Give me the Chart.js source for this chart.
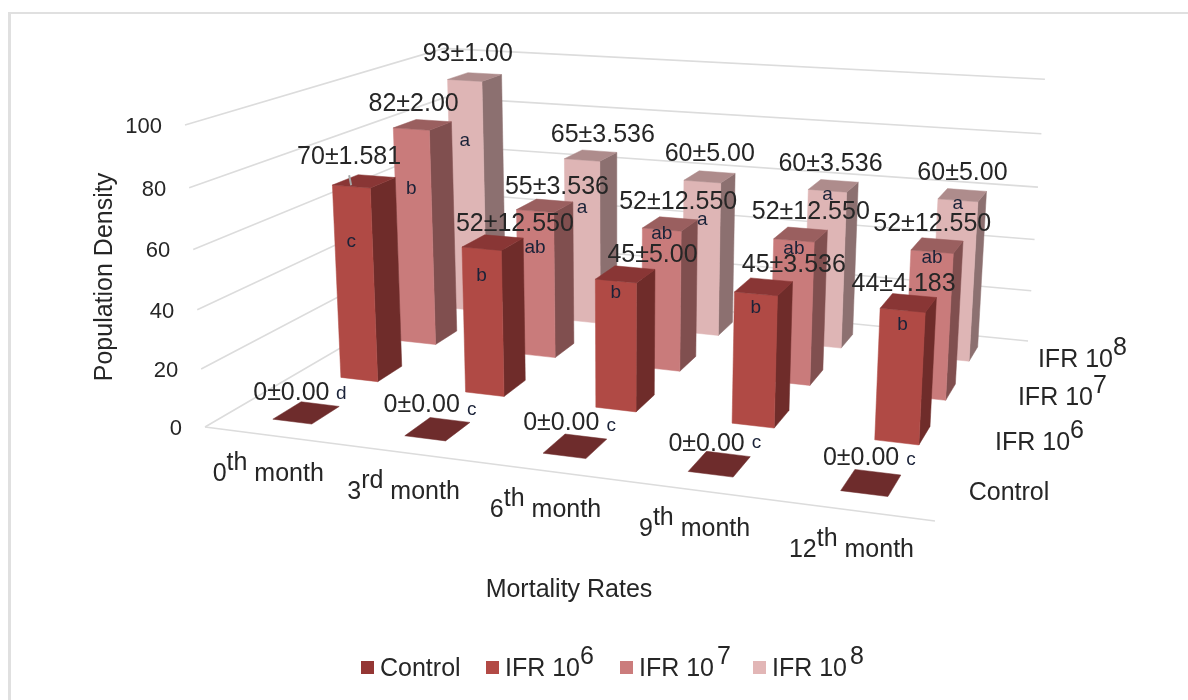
<!DOCTYPE html>
<html>
<head>
<meta charset="utf-8">
<script src="https://cdn.jsdelivr.net/npm/chart.js@4/dist/chart.umd.min.js"></script>
<style>
  html, body { margin: 0; background: #fff; }
  canvas { display: block; }
</style>
</head>
<body>
<canvas id="c" width="1188" height="700"></canvas>
<script>
// Months along the front of the floor; the superscript is kept apart from the number.
const monthNumbers = ['0', '3', '6', '9', '12'];
const monthSuffixes = ['th', 'rd', 'th', 'th', 'th'];
const months = ['0th month', '3rd month', '6th month', '9th month', '12th month'];

// Treatments, front row first.
const seriesNames = ['Control', 'IFR 10⁶', 'IFR 10⁷', 'IFR 10⁸'];
const seriesExponents = ['', '6', '7', '8'];

const controlValues = [0, 0, 0, 0, 0];
const ifr6Values = [70, 52, 45, 45, 44];
const ifr7Values = [82, 55, 52, 52, 52];
const ifr8Values = [93, 65, 60, 60, 60];

const controlErrors = ['0.00', '0.00', '0.00', '0.00', '0.00'];
const ifr6Errors = ['1.581', '12.550', '5.00', '3.536', '4.183'];
const ifr7Errors = ['2.00', '3.536', '12.550', '12.550', '12.550'];
const ifr8Errors = ['1.00', '3.536', '5.00', '3.536', '5.00'];

const controlLetters = ['d', 'c', 'c', 'c', 'c'];
const ifr6Letters = ['c', 'b', 'b', 'b', 'b'];
const ifr7Letters = ['b', 'ab', 'ab', 'ab', 'ab'];
const ifr8Letters = ['a', 'a', 'a', 'a', 'a'];

const seriesValues = [controlValues, ifr6Values, ifr7Values, ifr8Values];
const seriesErrors = [controlErrors, ifr6Errors, ifr7Errors, ifr8Errors];
const seriesLetters = [controlLetters, ifr6Letters, ifr7Letters, ifr8Letters];

// Hand placement of the value labels, as [dx, dy] from their default spot above a bar.
const labelNudges = [
  [[-5, 4], [-6, 0], [-4, 1], [-3, 4], [0, -1]],
  [[-12, 0], [25, 6], [30, 5], [33, 2], [-2, 5]],
  [[-6, 3], [15, 5], [11, 2], [13, 2], [-2, 3]],
  [[-4, 1], [15, 4], [3, 1], [0, 2], [3, 2]]
];

// Distance of each significance letter below the top edge of its bar's front face
// (for the flat Control row, its vertical offset from the value label).
const letterDrops = [
  [1, 5, 3, -1, 2],
  [55, 27, 12, 14, 14],
  [60, 37, 4, 8, 6],
  [60, 48, 38, 4, 3]
];

const FONT = '"Liberation Sans", Arial, sans-serif';
const TEXT = '#262626';
const GRID = '#dcdcdc';

// Front, side and top shades per treatment, plus the legend swatch colour.
const faceColors = [
  { front: '#8c3636', side: '#6e2c2c', top: '#6e2c2c', key: '#943634' },
  { front: '#b04a45', side: '#6f2c2a', top: '#893635', key: '#b24a45' },
  { front: '#c97b7b', side: '#804f4f', top: '#9a5f5f', key: '#cb7c7c' },
  { front: '#deb5b5', side: '#8c7070', top: '#ae8c8c', key: '#e2b6b6' }
];

// Floor perspective: unit square (u along months, v along treatments) to canvas.
const FLOOR = { a: 621.2, b: 371.8, c: 205, d: 33.4, e: -63, f: 427, g: -0.11635, h: 0.2817 };
const VANISH = { x: 619, y: 6677 };   // vertical edges converge on this point
const HEIGHT_TAPER = -0.01;
const BAR_U = 0.060;                  // bar width, in floor units
const BAR_V = 0.10;                   // bar depth, in floor units

function project(chart, u, v, value) {
  const yScale = chart.scales.y;
  const F = FLOOR;
  const w = F.g * u + F.h * v + 1;
  const x = (F.a * u + F.b * v + F.c) / w;
  const y = (F.d * u + F.e * v + F.f) / w;
  const base = yScale.getPixelForValue(0);
  const fraction = (base - yScale.getPixelForValue(value)) / (base - yScale.top);
  // Heights foreshorten slightly towards the floor.
  const span = (base - yScale.getPixelForValue(value)) * (0.95 + 0.05 * fraction);
  const rise = span / (w * (1 + HEIGHT_TAPER * u));
  return {
    x: x + (x - VANISH.x) / (VANISH.y - y) * rise,
    y: y - rise
  };
}

function monthU(chart, index) {
  const xScale = chart.scales.x;
  return (xScale.getPixelForValue(index) - chart.chartArea.left) / chart.chartArea.width;
}

function rowV(row) {
  return (row + 0.5) / seriesNames.length;
}

function quad(ctx, pts, color) {
  ctx.beginPath();
  pts.forEach((p, i) => (i ? ctx.lineTo(p.x, p.y) : ctx.moveTo(p.x, p.y)));
  ctx.closePath();
  ctx.fillStyle = color;
  ctx.fill();
  ctx.strokeStyle = color;
  ctx.lineWidth = 0.5;
  ctx.stroke();
}

// Bars drawn as cuboids on the perspective floor; heights come from the y scale.
class Bar3DController extends Chart.BarController {
  draw() {
    const chart = this.chart;
    const ctx = chart.ctx;
    const row = this.index;
    const shade = faceColors[row];
    const meta = this.getMeta();
    const v0 = rowV(row) - BAR_V / 2;
    const v1 = rowV(row) + BAR_V / 2;
    meta.data.forEach((_, i) => {
      const value = this.getParsed(i).y;
      const uc = monthU(chart, i);
      const u0 = uc - BAR_U / 2;
      const u1 = uc + BAR_U / 2;
      const P = (u, v, val) => project(chart, u, v, val);
      if (value > 0) {
        quad(ctx, [P(u1, v0, 0), P(u1, v1, 0), P(u1, v1, value), P(u1, v0, value)], shade.side);
        quad(ctx, [P(u0, v0, 0), P(u1, v0, 0), P(u1, v0, value), P(u0, v0, value)], shade.front);
      }
      quad(ctx, [P(u0, v0, value), P(u1, v0, value), P(u1, v1, value), P(u0, v1, value)], shade.top);
    });
  }
}
Bar3DController.id = 'bar3d';
Bar3DController.defaults = Chart.BarController.defaults;
Chart.register(Bar3DController);

// Text with a raised part: pieces are [string, raised?], drawn left to right.
function raisedWidth(ctx, pieces) {
  return pieces.reduce((sum, p) => sum + ctx.measureText(p[0]).width, 0);
}
function drawRaised(ctx, pieces, x, y, lift, gap) {
  ctx.textAlign = 'left';
  ctx.textBaseline = 'alphabetic';
  pieces.forEach(p => {
    if (p[1]) x += gap || 0;
    ctx.fillText(p[0], x, p[1] ? y - lift : y);
    x += ctx.measureText(p[0]).width;
  });
  return x;
}

const wallsPlugin = {
  id: 'walls',
  beforeDatasetsDraw(chart) {
    const { ctx, scales: { y: yScale } } = chart;
    ctx.save();
    ctx.strokeStyle = GRID;
    ctx.lineWidth = 1.6;
    yScale.ticks.forEach(t => {
      const a = project(chart, 0, 0, t.value);
      const b = project(chart, 0, 1, t.value);
      const c = project(chart, 1, 1, t.value);
      ctx.beginPath();
      ctx.moveTo(a.x, a.y);
      ctx.lineTo(b.x, b.y);
      ctx.lineTo(c.x, c.y);
      ctx.stroke();
    });
    const fl = project(chart, 0, 0, 0);
    const fr = project(chart, 1, 0, 0);
    ctx.beginPath();
    ctx.moveTo(fl.x, fl.y);
    ctx.lineTo(fr.x, fr.y);
    ctx.stroke();
    ctx.restore();
  }
};

const textPlugin = {
  id: 'chartText',
  afterDatasetsDraw(chart) {
    const { ctx, scales: { y: yScale } } = chart;
    ctx.save();
    ctx.fillStyle = TEXT;

    // Value axis numbers follow the slanted front edge of the wall.
    ctx.font = '22px ' + FONT;
    ctx.textAlign = 'right';
    ctx.textBaseline = 'middle';
    yScale.ticks.forEach(t => {
      const p = project(chart, 0, 0, t.value);
      ctx.fillText(String(t.value), p.x - 23, p.y + 2);
    });

    // Month labels under the front edge.
    ctx.font = '25px ' + FONT;
    months.forEach((_, i) => {
      const p = project(chart, monthU(chart, i), 0, 0);
      const pieces = [[monthNumbers[i], false], [monthSuffixes[i], true], [' month', false]];
      const wide = raisedWidth(ctx, pieces);
      drawRaised(ctx, pieces, p.x - 2 - wide / 2, p.y + 46, 11);
    });

    // Treatment labels beyond the right edge.
    seriesNames.forEach((_, row) => {
      const p = project(chart, 1, rowV(row), 0);
      const exp = seriesExponents[row];
      const pieces = exp ? [['IFR 10', false], [exp, true]] : [['Control', false]];
      drawRaised(ctx, pieces, p.x + 19, p.y + 8, 12);
    });

    // Axis titles.
    ctx.textAlign = 'center';
    ctx.textBaseline = 'middle';
    ctx.fillText('Mortality Rates', 569, 590);
    ctx.save();
    ctx.translate(105, 277);
    ctx.rotate(-Math.PI / 2);
    ctx.fillText('Population Density', 0, 0);
    ctx.restore();

    // Value labels and significance letters, back rows first.
    for (let row = seriesNames.length - 1; row >= 0; row--) {
      seriesValues[row].forEach((value, i) => {
        const uc = monthU(chart, i);
        const top = project(chart, uc, rowV(row), value);
        const face = project(chart, uc, rowV(row) - BAR_V / 2, value);
        const text = value + '±' + seriesErrors[row][i];
        const nudge = labelNudges[row][i];
        ctx.font = '25px ' + FONT;
        ctx.textAlign = 'center';
        ctx.textBaseline = 'middle';
        const lx = top.x + (value === 0 ? -10 : -3) + nudge[0];
        const ly = top.y - 24 + nudge[1];
        ctx.fillStyle = TEXT;
        ctx.fillText(text, lx, ly);
        const letter = seriesLetters[row][i];
        ctx.fillStyle = '#1a2238';
        ctx.font = '19px ' + FONT;
        if (value === 0) {
          ctx.fillText(letter, lx + 50, ly + letterDrops[row][i]);
        } else {
          ctx.fillText(letter, face.x, face.y + letterDrops[row][i]);
        }
      });
    }

    // Short leader from the first IFR 10⁶ label to its bar.
    const leadEnd = project(chart, monthU(chart, 0), rowV(1), ifr6Values[0]);
    ctx.strokeStyle = '#a6a6a6';
    ctx.lineWidth = 2;
    ctx.beginPath();
    ctx.moveTo(leadEnd.x - 15, leadEnd.y - 6);
    ctx.lineTo(leadEnd.x - 13, leadEnd.y + 4);
    ctx.stroke();

    // Legend along the bottom.
    const keyX = [361, 486, 620, 753];
    const expGap = [0, 0, 3, 3];
    ctx.font = '25px ' + FONT;
    ctx.textAlign = 'left';
    seriesNames.forEach((_, row) => {
      ctx.fillStyle = faceColors[row].key;
      ctx.fillRect(keyX[row], 661, 13, 13);
      ctx.fillStyle = TEXT;
      const exp = seriesExponents[row];
      const pieces = exp ? [['IFR 10', false], [exp, true]] : [['Control', false]];
      drawRaised(ctx, pieces, keyX[row] + 19, 676, 12, expGap[row]);
    });

    // Outer frame.
    ctx.strokeStyle = '#e0e0e0';
    ctx.lineWidth = 3;
    ctx.beginPath();
    ctx.moveTo(9.5, 700);
    ctx.lineTo(9.5, 13);
    ctx.stroke();
    ctx.lineWidth = 2;
    ctx.beginPath();
    ctx.moveTo(8, 13);
    ctx.lineTo(1188, 13);
    ctx.stroke();
    ctx.restore();
  }
};

const datasets = seriesNames.map((name, row) => ({
  label: name,
  data: seriesValues[row],
  backgroundColor: faceColors[row].key,
  clip: false
}));

new Chart(document.getElementById('c'), {
  type: 'bar3d',
  data: { labels: months, datasets },
  plugins: [wallsPlugin, textPlugin],
  options: {
    responsive: false,
    animation: false,
    layout: { padding: { left: 205, right: 253, top: 125, bottom: 273 } },
    plugins: { legend: { display: false }, tooltip: { enabled: false } },
    scales: {
      x: { type: 'category', display: false, offset: true, grid: { offset: true } },
      y: { type: 'linear', display: false, min: 0, max: 100, ticks: { stepSize: 20 } }
    }
  }
});
</script>
</body>
</html>
